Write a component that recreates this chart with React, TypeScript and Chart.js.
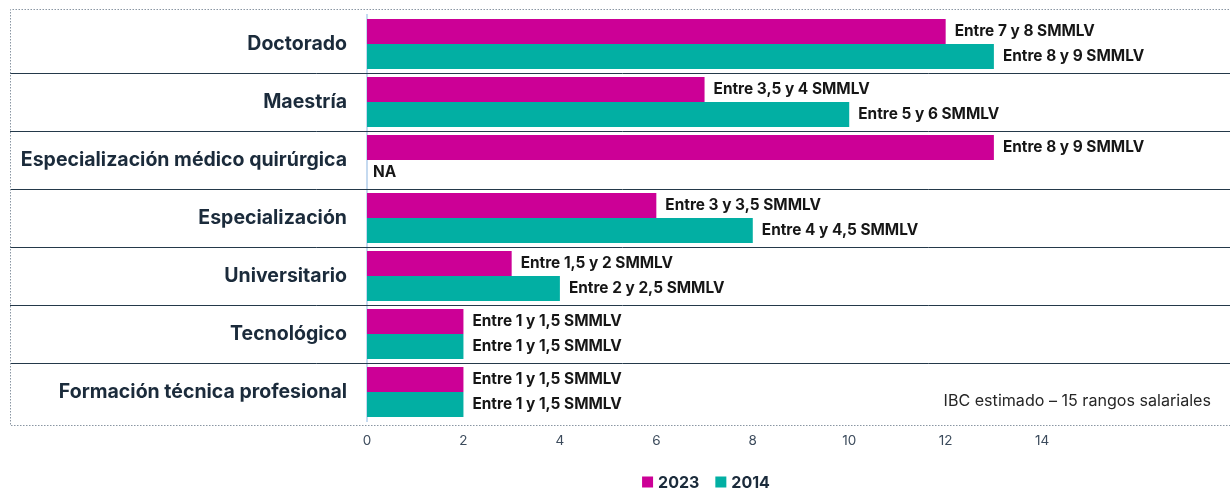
import React, { useEffect, useRef } from 'react';
import { Chart, registerables } from 'chart.js';

Chart.register(...registerables);

const categories = [
  'Doctorado',
  'Maestría',
  'Especialización médico quirúrgica',
  'Especialización',
  'Universitario',
  'Tecnológico',
  'Formación técnica profesional',
];
const seriesNames = ['2023', '2014'];
const values2023 = [12, 7, 13, 6, 3, 2, 2];
const values2014: (number | null)[] = [13, 10, null, 8, 4, 2, 2];
const labels2023 = [
  'Entre 7 y 8 SMMLV',
  'Entre 3,5 y 4 SMMLV',
  'Entre 8 y 9 SMMLV',
  'Entre 3 y 3,5 SMMLV',
  'Entre 1,5 y 2 SMMLV',
  'Entre 1 y 1,5 SMMLV',
  'Entre 1 y 1,5 SMMLV',
];
const labels2014 = [
  'Entre 8 y 9 SMMLV',
  'Entre 5 y 6 SMMLV',
  'NA',
  'Entre 4 y 4,5 SMMLV',
  'Entre 2 y 2,5 SMMLV',
  'Entre 1 y 1,5 SMMLV',
  'Entre 1 y 1,5 SMMLV',
];
const xTickValues = [0, 2, 4, 6, 8, 10, 12, 14];
const noteText = 'IBC estimado – 15 rangos salariales';

const COLORS = ['#CC0096', '#02AFA3'];
const FONT = 'Inter, "Noto Sans", sans-serif';

const decorPlugin = {
  id: 'decor',
  beforeDatasetsDraw(chart: any) {
    const ctx = chart.ctx;
    const y = chart.scales.y;
    ctx.save();
    // category separators
    ctx.strokeStyle = '#24394A';
    ctx.lineWidth = 1;
    for (let i = 1; i < categories.length; i++) {
      const py = Math.round((y.getPixelForTick(i - 1) + y.getPixelForTick(i)) / 2) + 0.5;
      ctx.beginPath();
      ctx.moveTo(10, py);
      ctx.lineTo(chart.width, py);
      ctx.stroke();
    }
    // dotted frame
    ctx.strokeStyle = '#8A96A3';
    ctx.setLineDash([1.5, 1.5]);
    ctx.beginPath();
    ctx.moveTo(chart.width, 9.5);
    ctx.lineTo(10.5, 9.5);
    ctx.lineTo(10.5, 425.5);
    ctx.lineTo(chart.width, 425.5);
    ctx.stroke();
    ctx.restore();
  },
  afterDatasetsDraw(chart: any) {
    const ctx = chart.ctx;
    const xs = chart.scales.x;
    const ys = chart.scales.y;
    ctx.save();
    // data labels
    ctx.font = `bold 15.4px ${FONT}`;
    ctx.fillStyle = '#161616';
    ctx.textAlign = 'left';
    ctx.textBaseline = 'middle';
    chart.data.datasets.forEach((ds: any, di: number) => {
      const meta = chart.getDatasetMeta(di);
      const texts = di === 0 ? labels2023 : labels2014;
      meta.data.forEach((bar: any, i: number) => {
        const v = ds.data[i];
        let by = bar.y;
        if (by == null || isNaN(by)) {
          const other = chart.getDatasetMeta(1 - di).data[i];
          by = ys.getPixelForTick(i) + (ys.getPixelForTick(i) - other.y);
        }
        const px = v == null ? xs.getPixelForValue(0) + 6 : bar.x + 9;
        ctx.fillText(texts[i], px, by);
      });
    });
    // note
    ctx.font = `16.1px ${FONT}`;
    ctx.fillStyle = '#262626';
    ctx.textAlign = 'right';
    ctx.fillText(noteText, 1211, 401);
    // legend
    ctx.font = `bold 16px ${FONT}`;
    const box = 11;
    const gapText = 5;
    const gapItem = 16;
    const widths = seriesNames.map((s) => ctx.measureText(s).width);
    const total = widths.reduce((a, w) => a + box + gapText + w, 0) + gapItem * (seriesNames.length - 1);
    let lx = 706 - total / 2;
    const ly = 482;
    ctx.textAlign = 'left';
    seriesNames.forEach((s, i) => {
      ctx.fillStyle = COLORS[i];
      ctx.fillRect(lx, ly - box / 2, box, box);
      lx += box + gapText;
      ctx.fillStyle = '#1B2B3B';
      ctx.fillText(s, lx, ly + 1);
      lx += widths[i] + gapItem;
    });
    ctx.restore();
  },
};

export default function App() {
  const ref = useRef<HTMLCanvasElement>(null);
  useEffect(() => {
    if (!ref.current) return;
    const chart = new Chart(ref.current, {
      type: 'bar',
      data: {
        labels: categories,
        datasets: [
          { label: seriesNames[0], data: values2023, backgroundColor: COLORS[0] },
          { label: seriesNames[1], data: values2014, backgroundColor: COLORS[1] },
        ],
      },
      options: {
        indexAxis: 'y',
        responsive: false,
        animation: false,
        events: [],
        layout: { padding: { top: 15, left: 0, right: 0, bottom: 0 } },
        datasets: { bar: { categoryPercentage: 0.862, barPercentage: 1 } },
        plugins: { legend: { display: false }, tooltip: { enabled: false } },
        scales: {
          y: {
            grid: { display: false, drawTicks: false },
            border: { display: true, color: '#C5DAF0', width: 2 },
            ticks: {
              padding: 20,
              color: '#1B2B3B',
              font: { family: FONT, size: 19.5, weight: 'bold' },
            },
            afterFit: (s: any) => {
              s.width = 367;
              s.paddingTop = 0;
              s.paddingBottom = 0;
            },
          },
          x: {
            min: 0,
            max: 18,
            grid: { display: false, drawTicks: false },
            border: { display: false },
            ticks: {
              stepSize: 2,
              padding: 12,
              color: '#3C4B5C',
              font: { family: FONT, size: 13.5 },
              callback: (v: any) => (xTickValues.includes(Number(v)) ? String(v) : ''),
            },
            afterFit: (s: any) => {
              s.height = 67;
              s.paddingLeft = 0;
              s.paddingRight = 0;
            },
          },
        },
      },
      plugins: [decorPlugin],
    });
    return () => chart.destroy();
  }, []);
  return (
    <div style={{ position: 'absolute', left: 0, top: 0, width: 1230, height: 488, overflow: 'hidden', background: '#fff' }}>
      <canvas ref={ref} width={1235} height={488} style={{ display: 'block' }} />
    </div>
  );
}
